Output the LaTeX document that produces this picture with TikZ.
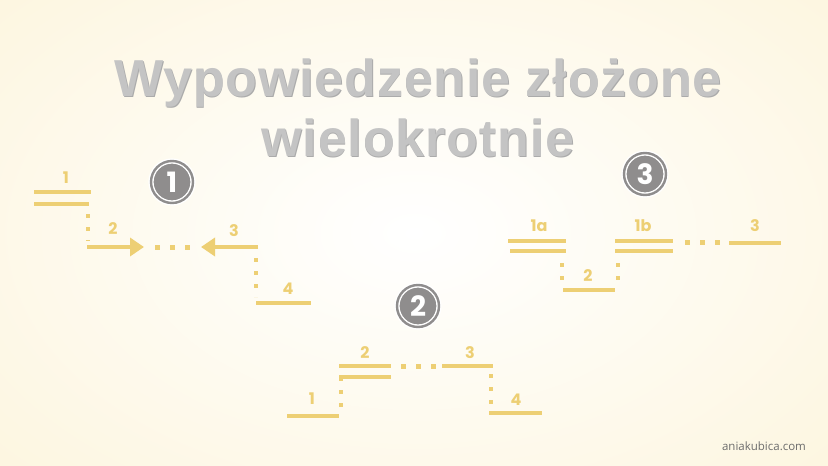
\documentclass[tikz,border=0pt]{standalone}
\usepackage{fontspec}
\setmainfont{Liberation Sans}
\newfontfamily\labelfont{Poppins}
\newfontfamily\webfont{Open Sans}
\newfontfamily\titlefont[LetterSpace=1.6]{Liberation Sans}
\usetikzlibrary{calc,arrows.meta}
\definecolor{cream}{HTML}{FDF6E0}
\definecolor{gold}{HTML}{EDCF74}
\definecolor{titlegray}{HTML}{C4C4C4}
\definecolor{titleshadow}{HTML}{ABABAB}
\definecolor{badgegray}{HTML}{8F8D8D}

\tikzset{
  bar/.style={gold, line width=4pt},
  dotline/.style={gold, line width=4pt, dash pattern=on 4pt off 9pt},
  gap/.style={gold, line width=5pt, dash pattern=on 5pt off 10pt},
  arrowbar/.style={gold, line width=4pt, -{Triangle[length=14pt,width=18pt]}},
  lbl/.style={text=gold, font=\labelfont\bfseries\fontsize{16}{16}\selectfont, inner sep=0pt},
  title/.style={font=\titlefont\bfseries\fontsize{52}{52}\selectfont},
  badge/.style={circle, fill=badgegray, draw=white, line width=1.4pt, double=badgegray,
    double distance=2.4pt, minimum size=42pt, inner sep=0pt,
    text=white, font=\labelfont\bfseries\fontsize{28}{28}\selectfont}
}

\begin{document}
\begin{tikzpicture}[x=1pt, y=-1pt]
				% background
				\useasboundingbox (0,0) rectangle (828,466);
				\shade[inner color=white, outer color=cream] (-150,-120) rectangle (978,586);
				
				% title
				\node[title, text=titleshadow] (t1s) at (418.7,83.7) {Wypowiedzenie złożone};
				\node[title, text=titlegray] (t1) at (418,83) {Wypowiedzenie złożone};
				\node[title, text=titleshadow] (t2s) at (418.7,138.7) {wielokrotnie};
				\node[title, text=titlegray] (t2) at (418,138) {wielokrotnie};
				
				% badges
				\node[badge] (b1) at (172,182) {1};
				\node[badge] (b2) at (418,306) {2};
				\node[badge] (b3) at (645,174) {3};
				
				% scheme 1
				\coordinate (a1) at (34,192);
				\coordinate (a1e) at (91,192);
				\coordinate (a1l) at (34,204);
				\coordinate (a1r) at (89,204);
				\coordinate (a2) at (87,247);
				\coordinate (a2e) at (144,247);
				\coordinate (a3) at (258,247);
				\coordinate (a3e) at (201,247);
				\coordinate (a4) at (256,303);
				\coordinate (a4e) at (311,303);
				
				\draw[bar] (a1) -- (a1e);
				\draw[bar] (a1l) -- (a1r);
				\draw[dotline] ($(a1r)+(-1,10)$) -- ($(a2)+(1,-6)$);
				\draw[arrowbar] (a2) -- (a2e);
				\draw[gap] (155,247) -- (192,247);
				\draw[arrowbar] (a3) -- (a3e);
				\draw[dotline] ($(a3)+(-2,11)$) -- ($(a4)+(0,-6)$);
				\draw[bar] (a4) -- (a4e);
				
				\node[lbl] (l11) at (66,178) {1};
				\node[lbl] (l12) at (113,229) {2};
				\node[lbl] (l13) at (234,231) {3};
				\node[lbl] (l14) at (288,289) {4};
				
				% scheme 2
				\coordinate (c1) at (287,416);
				\coordinate (c1e) at (339,416);
				\coordinate (c2) at (339,366);
				\coordinate (c2e) at (391,366);
				\coordinate (c2l) at (339,377);
				\coordinate (c2r) at (391,377);
				\coordinate (c3) at (442,366);
				\coordinate (c3e) at (493,366);
				\coordinate (c4) at (489,413);
				\coordinate (c4e) at (542,413);
				
				\draw[bar] (c1) -- (c1e);
				\draw[bar] (c2) -- (c2e);
				\draw[bar] (c2l) -- (c2r);
				\draw[dotline] ($(c2l)+(2,0)$) -- ($(c1e)+(2,-6)$);
				\draw[gap] (401,366) -- (436,366);
				\draw[bar] (c3) -- (c3e);
				\draw[dotline] ($(c3e)+(-2,8)$) -- ($(c4)+(2,-6)$);
				\draw[bar] (c4) -- (c4e);
				
				\node[lbl] (l21) at (312,399) {1};
				\node[lbl] (l22) at (365,353) {2};
				\node[lbl] (l23) at (470,353) {3};
				\node[lbl] (l24) at (516,400) {4};
				
				% scheme 3
				\coordinate (d1) at (508,241);
				\coordinate (d1e) at (566,241);
				\coordinate (d1l) at (510,251);
				\coordinate (d1r) at (566,251);
				\coordinate (d2) at (563,290);
				\coordinate (d2e) at (615,290);
				\coordinate (d3) at (615,241);
				\coordinate (d3e) at (673,241);
				\coordinate (d3l) at (615,251);
				\coordinate (d3r) at (673,251);
				\coordinate (d4) at (729,243);
				\coordinate (d4e) at (781,243);
				
				\draw[bar] (d1) -- (d1e);
				\draw[bar] (d1l) -- (d1r);
				\draw[bar] (d2) -- (d2e);
				\draw[bar] (d3) -- (d3e);
				\draw[bar] (d3l) -- (d3r);
				\draw[bar] (d4) -- (d4e);
				\foreach \x in {562,618}{
					\draw[dotline] (\x,263) -- (\x,282);}
				\draw[gap] (685,242) -- (720,242);
				
				\node[lbl] (l31) at (539,226) {1a};
				\node[lbl] (l32) at (588,276) {2};
				\node[lbl] (l33) at (643,226) {1b};
				\node[lbl] (l34) at (755,226) {3};
				
				% site
				\node[text=gray!85!black, font=\webfont\fontsize{11.5}{12}\selectfont] (web) at (764,446) {aniakubica.com};
			\end{tikzpicture}
\end{document}
